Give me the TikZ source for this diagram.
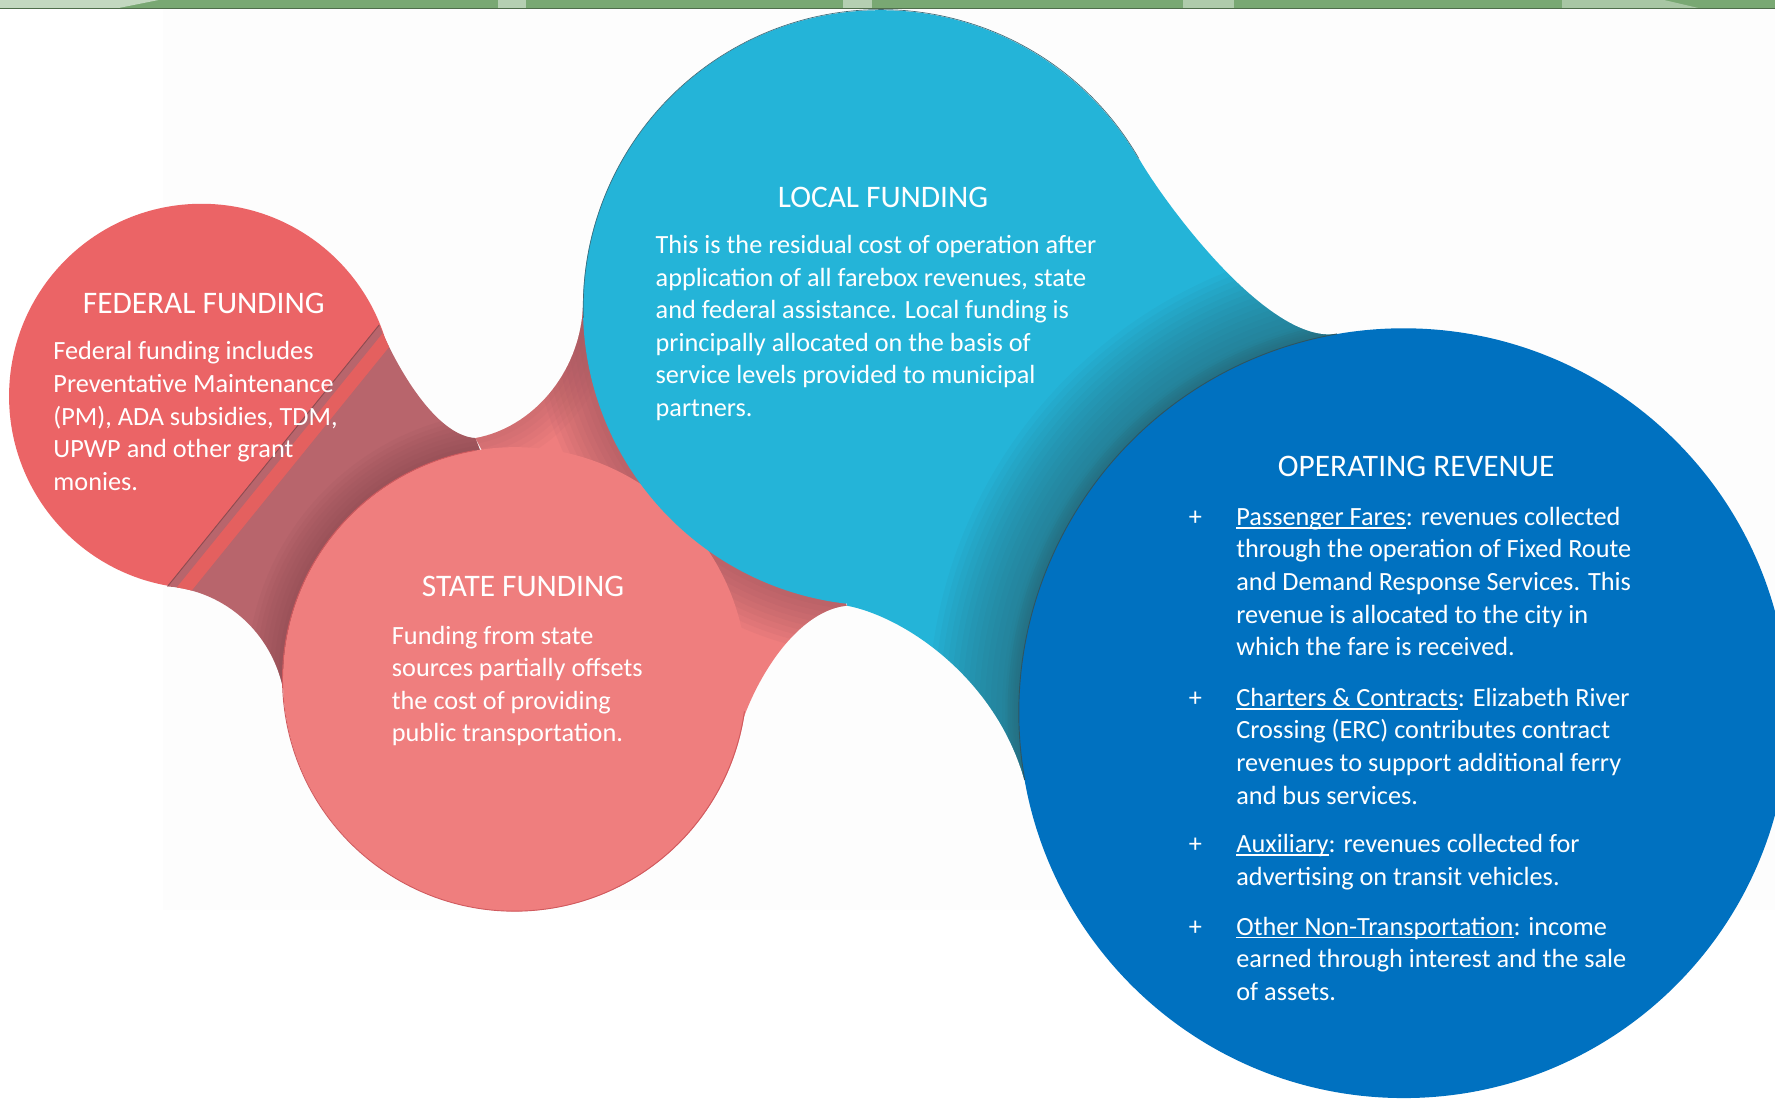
\documentclass[tikz,border=0pt]{standalone}
\usepackage{fontspec}
\setmainfont{Carlito}
\definecolor{fedred}{HTML}{EB6466}
\definecolor{statepink}{HTML}{EF7E7E}
\definecolor{localcyan}{HTML}{24B4D8}
\definecolor{opblue}{HTML}{0071C0}
\definecolor{leaf}{HTML}{79A873}
\definecolor{neckred}{HTML}{B8656C}
\definecolor{neckdark}{HTML}{7E4048}
\definecolor{stripe}{HTML}{E4605F}
\definecolor{rimred}{HTML}{8E4B50}
\definecolor{rosedark}{HTML}{94505A}
\definecolor{tealdark}{HTML}{2A6676}
\definecolor{statedge}{HTML}{D05A5E}
\definecolor{localedge}{HTML}{3E6C7A}
\definecolor{opedge}{HTML}{2F5560}
\newcommand{\lbl}[1]{\setbox0\hbox{#1}\rlap{\rule[-3pt]{\wd0}{1.3pt}}\box0}
\tikzset{
  title/.style={text=white, font=\fontsize{27.7}{32}\selectfont, inner sep=0pt, anchor=base},
  body/.style={text=white, font=\fontsize{23.2}{28.8}\selectfont, align=left, inner sep=0pt, anchor=base west},
  plus/.style={text=white, font=\fontsize{23.2}{28.8}\selectfont, inner sep=0pt, anchor=base},
}

\begin{document}
\begin{tikzpicture}[x=1pt,y=-1pt]
\useasboundingbox (0,0) rectangle (1568,975);
\fill[white] (0,0) rectangle (1568,975);
\fill[black!0.8] (144,8) rectangle (1568,804);
% strip of leaves on top
\fill[leaf] (0,0) rectangle (1568,7);
\fill[white!55!leaf] (0,7) -- (0,0) -- (140,0) -- (105,7) -- cycle;
\fill[white!45!leaf] (440,0) rectangle (465,7);
\fill[white!45!leaf] (745,0) rectangle (770,7);
\fill[white!40!leaf] (1045,0) rectangle (1090,7);
\fill[white!35!leaf] (1380,0) -- (1470,0) -- (1500,7) -- (1380,7) -- cycle;
\draw[black!35!leaf, line width=1pt] (0,7.5) -- (1568,7.5);

\coordinate (fed) at (178,350);
\coordinate (state) at (455,600);
\coordinate (local) at (778,272);
\coordinate (op) at (1240,630);

\fill[fedred] (fed) circle (170pt);

% neck federal - state
\path[fill=neckred, path picture={
    \foreach \w in {8,16,...,64}
      \draw[neckdark, line width=\w pt, opacity=0.07] (state) circle (205pt);
    \draw[stripe, line width=12pt] (120,573) -- (385,246);
  }]
  (335,287) .. controls (350,324) and (385,385) .. (420,387)
  -- (455,480) -- (250,608)
  .. controls (240,560) and (200,522) .. (148,518) -- cycle;
\draw[rimred, line width=0.8pt] (148,518) -- (335,287);

% neck state - local
\path[fill=statepink, path picture={
    \foreach \w in {10,20,...,90}
      \draw[rosedark, line width=\w pt, opacity=0.08] (local) circle (263pt);
    \foreach \w in {10,20,...,60}
      \draw[rosedark, line width=\w pt, opacity=0.06]
        (420,387) .. controls (470,378) and (512,330) .. (515,272);
  }]
  (420,387) .. controls (470,378) and (512,330) .. (515,272)
  -- (700,420) -- (748,535)
  .. controls (700,540) and (662,610) .. (652,650) -- (480,500) -- cycle;

\fill[statepink] (state) circle (205pt);
\draw[statedge, line width=0.8pt] (419,398) arc[start angle=100, end angle=352, radius=205pt];
\fill[localcyan] (local) circle (263pt);
\draw[localedge, line width=0.6pt] (1006,140) arc[start angle=30, end angle=182, radius=263pt];

% neck local - operating
\path[fill=localcyan, path picture={
    \foreach \w in {10,20,...,160}
      \draw[tealdark, line width=\w pt, opacity=0.06] (op) circle (340pt);
    \foreach \w in {4,8,...,24}
      \draw[tealdark, line width=\w pt, opacity=0.1] (op) circle (340pt);
  }]
  (1006,140) .. controls (1031,183) and (1122,305) .. (1181,295)
  -- (1150,500) -- (905,689)
  .. controls (880,600) and (800,545) .. (748,535) -- (820,330) -- cycle;

\fill[opblue] (op) circle (340pt);
\draw[opedge, line width=0.8pt] (1181,295) arc[start angle=100, end angle=190, radius=340pt];

% texts
\node[title] (fedtitle) at (180,277) {FEDERAL FUNDING};
\node[body] (fedtext) at (47,433.2) {Federal funding includes\\Preventative Maintenance\\(PM), ADA subsidies, TDM,\\UPWP and other grant\\monies.};

\node[title] (localtitle) at (780,183) {LOCAL FUNDING};
\node[body] (localtext) at (579,368) {This is the residual cost of operation after\\application of all farebox revenues, state\\and federal assistance. Local funding is\\principally allocated on the basis of\\service levels provided to municipal\\partners.};

\node[title] (statetitle) at (462,527) {STATE FUNDING};
\node[body] (statetext) at (346,655.4) {Funding from state\\sources partially offsets\\the cost of providing\\public transportation.};

\node[title] (optitle) at (1251,421) {OPERATING REVENUE};
\node[body] (opfares) at (1092,579.2) {\lbl{Passenger Fares}: revenues collected\\through the operation of Fixed Route\\and Demand Response Services. This\\revenue is allocated to the city in\\which the fare is received.};
\node[body] (opcharters) at (1092,710.4) {\lbl{Charters \& Contracts}: Elizabeth River\\Crossing (ERC) contributes contract\\revenues to support additional ferry\\and bus services.};
\node[body] (opaux) at (1092,781.8) {\lbl{Auxiliary}: revenues collected for\\advertising on transit vehicles.};
\node[body] (opother) at (1092,883.6) {\lbl{Other Non-Transportation}: income\\earned through interest and the sale\\of assets.};
\foreach \y [count=\i] in {464,624,753,826}
  \node[plus] (plus\i) at (1056,\y) {+};
\end{tikzpicture}
\end{document}
